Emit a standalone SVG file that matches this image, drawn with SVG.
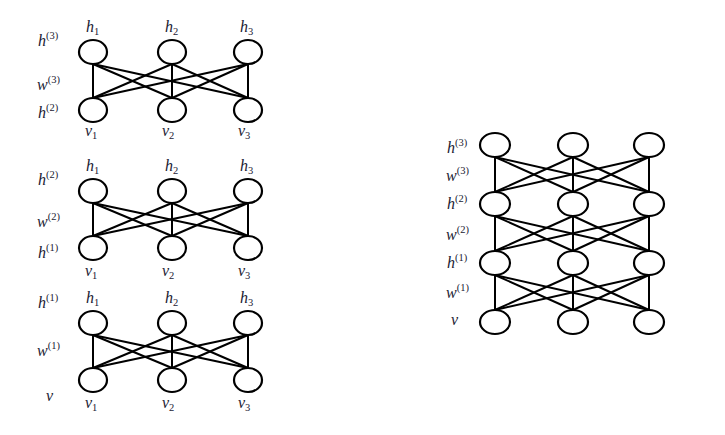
<svg xmlns="http://www.w3.org/2000/svg" width="725" height="435" viewBox="0 0 725 435">
<style>
.n{fill:none;stroke:#000;stroke-width:2.2}
.e line{stroke:#000;stroke-width:2}
text{font-family:"Liberation Serif","Times New Roman","DejaVu Serif",serif;font-style:italic;font-size:16px;fill:#1a1a33}
.s{font-size:10.5px;font-style:normal}
</style>
<rect width="725" height="435" fill="#fff"/>
<g id="connectors" class="e">
<line x1="93" y1="64" x2="93" y2="98"/><line x1="93" y1="64" x2="172" y2="98"/><line x1="93" y1="64" x2="248" y2="98"/>
<line x1="172" y1="64" x2="93" y2="98"/><line x1="172" y1="64" x2="172" y2="98"/><line x1="172" y1="64" x2="248" y2="98"/>
<line x1="248" y1="64" x2="93" y2="98"/><line x1="248" y1="64" x2="172" y2="98"/><line x1="248" y1="64" x2="248" y2="98"/>
<line x1="93" y1="203" x2="93" y2="236"/><line x1="93" y1="203" x2="172" y2="236"/><line x1="93" y1="203" x2="248" y2="236"/>
<line x1="172" y1="203" x2="93" y2="236"/><line x1="172" y1="203" x2="172" y2="236"/><line x1="172" y1="203" x2="248" y2="236"/>
<line x1="248" y1="203" x2="93" y2="236"/><line x1="248" y1="203" x2="172" y2="236"/><line x1="248" y1="203" x2="248" y2="236"/>
<line x1="93" y1="335" x2="93" y2="368"/><line x1="93" y1="335" x2="172" y2="368"/><line x1="93" y1="335" x2="248" y2="368"/>
<line x1="172" y1="335" x2="93" y2="368"/><line x1="172" y1="335" x2="172" y2="368"/><line x1="172" y1="335" x2="248" y2="368"/>
<line x1="248" y1="335" x2="93" y2="368"/><line x1="248" y1="335" x2="172" y2="368"/><line x1="248" y1="335" x2="248" y2="368"/>
<line x1="495" y1="157" x2="495" y2="192"/><line x1="495" y1="157" x2="573" y2="192"/><line x1="495" y1="157" x2="649" y2="192"/>
<line x1="573" y1="157" x2="495" y2="192"/><line x1="573" y1="157" x2="573" y2="192"/><line x1="573" y1="157" x2="649" y2="192"/>
<line x1="649" y1="157" x2="495" y2="192"/><line x1="649" y1="157" x2="573" y2="192"/><line x1="649" y1="157" x2="649" y2="192"/>
<line x1="495" y1="216" x2="495" y2="251"/><line x1="495" y1="216" x2="573" y2="251"/><line x1="495" y1="216" x2="649" y2="251"/>
<line x1="573" y1="216" x2="495" y2="251"/><line x1="573" y1="216" x2="573" y2="251"/><line x1="573" y1="216" x2="649" y2="251"/>
<line x1="649" y1="216" x2="495" y2="251"/><line x1="649" y1="216" x2="573" y2="251"/><line x1="649" y1="216" x2="649" y2="251"/>
<line x1="495" y1="275" x2="495" y2="310"/><line x1="495" y1="275" x2="573" y2="310"/><line x1="495" y1="275" x2="649" y2="310"/>
<line x1="573" y1="275" x2="495" y2="310"/><line x1="573" y1="275" x2="573" y2="310"/><line x1="573" y1="275" x2="649" y2="310"/>
<line x1="649" y1="275" x2="495" y2="310"/><line x1="649" y1="275" x2="573" y2="310"/><line x1="649" y1="275" x2="649" y2="310"/>
</g>
<g id="b1h1"><ellipse class="n" cx="93" cy="52" rx="14" ry="12"/><text x="86" y="32">h<tspan class="s" dy="3">1</tspan></text></g>
<g id="b1h2"><ellipse class="n" cx="172" cy="52" rx="14" ry="12"/><text x="165" y="32">h<tspan class="s" dy="3">2</tspan></text></g>
<g id="b1h3"><ellipse class="n" cx="248" cy="52" rx="14" ry="12"/><text x="240" y="32">h<tspan class="s" dy="3">3</tspan></text></g>
<g id="b1v1"><ellipse class="n" cx="93" cy="110" rx="14" ry="12"/><text x="85" y="136">v<tspan class="s" dy="3">1</tspan></text></g>
<g id="b1v2"><ellipse class="n" cx="172" cy="110" rx="14" ry="12"/><text x="162" y="136">v<tspan class="s" dy="3">2</tspan></text></g>
<g id="b1v3"><ellipse class="n" cx="248" cy="110" rx="14" ry="12"/><text x="238" y="136">v<tspan class="s" dy="3">3</tspan></text></g>
<g id="b1labels">
<text x="38" y="46">h<tspan class="s" dy="-7">(3)</tspan></text>
<text x="37" y="90">w<tspan class="s" dy="-7">(3)</tspan></text>
<text x="38" y="118">h<tspan class="s" dy="-7">(2)</tspan></text>
</g>
<g id="b2h1"><ellipse class="n" cx="93" cy="191" rx="14" ry="12"/><text x="86" y="171">h<tspan class="s" dy="3">1</tspan></text></g>
<g id="b2h2"><ellipse class="n" cx="172" cy="191" rx="14" ry="12"/><text x="165" y="171">h<tspan class="s" dy="3">2</tspan></text></g>
<g id="b2h3"><ellipse class="n" cx="248" cy="191" rx="14" ry="12"/><text x="240" y="171">h<tspan class="s" dy="3">3</tspan></text></g>
<g id="b2v1"><ellipse class="n" cx="93" cy="248" rx="14" ry="12"/><text x="85" y="276">v<tspan class="s" dy="3">1</tspan></text></g>
<g id="b2v2"><ellipse class="n" cx="172" cy="248" rx="14" ry="12"/><text x="162" y="276">v<tspan class="s" dy="3">2</tspan></text></g>
<g id="b2v3"><ellipse class="n" cx="248" cy="248" rx="14" ry="12"/><text x="238" y="276">v<tspan class="s" dy="3">3</tspan></text></g>
<g id="b2labels">
<text x="38" y="185">h<tspan class="s" dy="-7">(2)</tspan></text>
<text x="37" y="227">w<tspan class="s" dy="-7">(2)</tspan></text>
<text x="38" y="258">h<tspan class="s" dy="-7">(1)</tspan></text>
</g>
<g id="b3h1"><ellipse class="n" cx="93" cy="323" rx="14" ry="12"/><text x="86" y="303">h<tspan class="s" dy="3">1</tspan></text></g>
<g id="b3h2"><ellipse class="n" cx="172" cy="323" rx="14" ry="12"/><text x="165" y="303">h<tspan class="s" dy="3">2</tspan></text></g>
<g id="b3h3"><ellipse class="n" cx="248" cy="323" rx="14" ry="12"/><text x="240" y="303">h<tspan class="s" dy="3">3</tspan></text></g>
<g id="b3v1"><ellipse class="n" cx="93" cy="380" rx="14" ry="12"/><text x="85" y="408">v<tspan class="s" dy="3">1</tspan></text></g>
<g id="b3v2"><ellipse class="n" cx="172" cy="380" rx="14" ry="12"/><text x="162" y="408">v<tspan class="s" dy="3">2</tspan></text></g>
<g id="b3v3"><ellipse class="n" cx="248" cy="380" rx="14" ry="12"/><text x="238" y="408">v<tspan class="s" dy="3">3</tspan></text></g>
<g id="b3labels">
<text x="38" y="308">h<tspan class="s" dy="-7">(1)</tspan></text>
<text x="37" y="356">w<tspan class="s" dy="-7">(1)</tspan></text>
<text x="46" y="401">v</text>
</g>
<g id="r3a"><ellipse class="n" cx="495" cy="145" rx="15" ry="12"/></g>
<g id="r3b"><ellipse class="n" cx="573" cy="145" rx="15" ry="12"/></g>
<g id="r3c"><ellipse class="n" cx="649" cy="145" rx="15" ry="12"/></g>
<g id="r2a"><ellipse class="n" cx="495" cy="204" rx="15" ry="12"/></g>
<g id="r2b"><ellipse class="n" cx="573" cy="204" rx="15" ry="12"/></g>
<g id="r2c"><ellipse class="n" cx="649" cy="204" rx="15" ry="12"/></g>
<g id="r1a"><ellipse class="n" cx="495" cy="263" rx="15" ry="12"/></g>
<g id="r1b"><ellipse class="n" cx="573" cy="263" rx="15" ry="12"/></g>
<g id="r1c"><ellipse class="n" cx="649" cy="263" rx="15" ry="12"/></g>
<g id="r0a"><ellipse class="n" cx="495" cy="322" rx="15" ry="12"/></g>
<g id="r0b"><ellipse class="n" cx="573" cy="322" rx="15" ry="12"/></g>
<g id="r0c"><ellipse class="n" cx="649" cy="322" rx="15" ry="12"/></g>
<g id="rlabels">
<text x="447" y="153">h<tspan class="s" dy="-7">(3)</tspan></text>
<text x="446" y="181">w<tspan class="s" dy="-7">(3)</tspan></text>
<text x="447" y="209">h<tspan class="s" dy="-7">(2)</tspan></text>
<text x="446" y="240">w<tspan class="s" dy="-7">(2)</tspan></text>
<text x="447" y="268">h<tspan class="s" dy="-7">(1)</tspan></text>
<text x="446" y="298">w<tspan class="s" dy="-7">(1)</tspan></text>
<text x="451" y="325">v</text>
</g>
</svg>
